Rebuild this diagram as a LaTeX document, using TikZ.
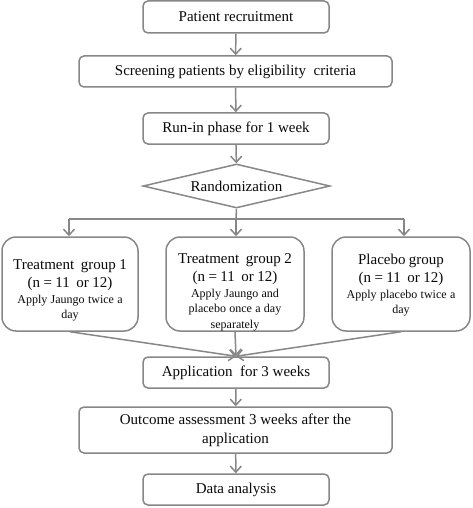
\documentclass[tikz,border=0pt]{standalone}
\usepackage{fontspec}
\setmainfont{Liberation Serif}
\usetikzlibrary{shapes.geometric,arrows.meta}
\definecolor{edge}{RGB}{135,135,135}
\definecolor{ink}{RGB}{10,10,10}
\tikzset{
  box/.style={draw=edge, line width=1.5pt, fill=white, rounded corners=5pt, inner sep=0pt,
    text=ink, font=\fontsize{15}{19}\selectfont, align=center},
  gbox/.style={draw=edge, line width=1.5pt, fill=white, rounded corners=14pt, inner sep=0pt,
    text=ink, minimum width=136pt, minimum height=94pt},
  gtext/.style={text=ink, inner sep=0pt, text width=136pt, align=center},
  conn/.style={draw=edge, line width=1.5pt},
  arr/.style={conn, -{Straight Barb[length=6pt,width=11pt]}},
}
\newcommand{\bigtxt}{\fontsize{15}{18}\selectfont}
\newcommand{\smtxt}{\fontsize{12}{15.5}\selectfont}
\begin{document}
\begin{tikzpicture}[x=1pt,y=-1pt]
\useasboundingbox (0,0) rectangle (472,508);
\node[box, minimum width=186pt, minimum height=32pt] (b1) at (236,17) {Patient recruitment};
\node[box, minimum width=313pt, minimum height=31pt] (b2) at (235.5,71.5) {Screening patients by eligibility\ \ criteria};
\node[box, minimum width=186pt, minimum height=31pt] (b3) at (236,128.5) {Run-in phase for 1 week};
\node[diamond, draw=edge, line width=1.5pt, fill=white, aspect=4.25, inner sep=0pt,
  minimum width=187pt, minimum height=44pt, text=ink, font=\fontsize{15}{18}\selectfont] (rd) at (236.5,186) {Randomization};
\coordinate (split) at (236,219);
\coordinate (sl) at (69,219);
\coordinate (sr) at (404,219);
\node[gbox] (g1) at (70,284) {};
\node[gbox, minimum width=138pt] (g2) at (235,284) {};
\node[gbox, minimum width=138pt] (g3) at (401,284) {};
\node[gtext] (t1) at (70,290.5) {{\bigtxt Treatment\ \ group 1\\(n = 11\ \ or 12)\par}{\smtxt Apply Jaungo twice a\\day\par}};
\node[gtext] (t2) at (235,292.5) {{\bigtxt Treatment\ \ group 2\\(n = 11\ \ or 12)\par}{\smtxt Apply Jaungo and\\placebo once a day\\separately\par}};
\node[gtext] (t3) at (401,285.5) {{\bigtxt Placebo group\\(n = 11\ \ or 12)\par}{\smtxt Apply placebo twice a\\day\par}};
\node[box, minimum width=186pt, minimum height=31pt] (ap) at (236,372.5) {Application\ \ for 3 weeks};
\node[box, minimum width=313pt, minimum height=46pt] (oc) at (235.5,430) {Outcome assessment 3 weeks after the\\application};
\node[box, minimum width=186pt, minimum height=31pt] (da) at (236,489.5) {Data analysis};

\draw[arr] (b1) -- (b2);
\draw[arr] (b2) -- (b3);
\draw[arr] (b3) -- (rd);
\draw[conn] (rd.south) -- (split);
\draw[conn] (sl) -- (sr);
\draw[arr] (sl) -- (sl |- g1.north);
\draw[arr] (split) -- (split |- g2.north);
\draw[arr] (sr) -- (sr |- g3.north);
\draw[arr] (g1.south) -- (ap.north);
\draw[arr] (g2.south) -- (ap.north);
\draw[arr] (g3.south) -- (ap.north);
\draw[arr] (ap) -- (oc);
\draw[arr] (oc) -- (da);
\end{tikzpicture}
\end{document}
